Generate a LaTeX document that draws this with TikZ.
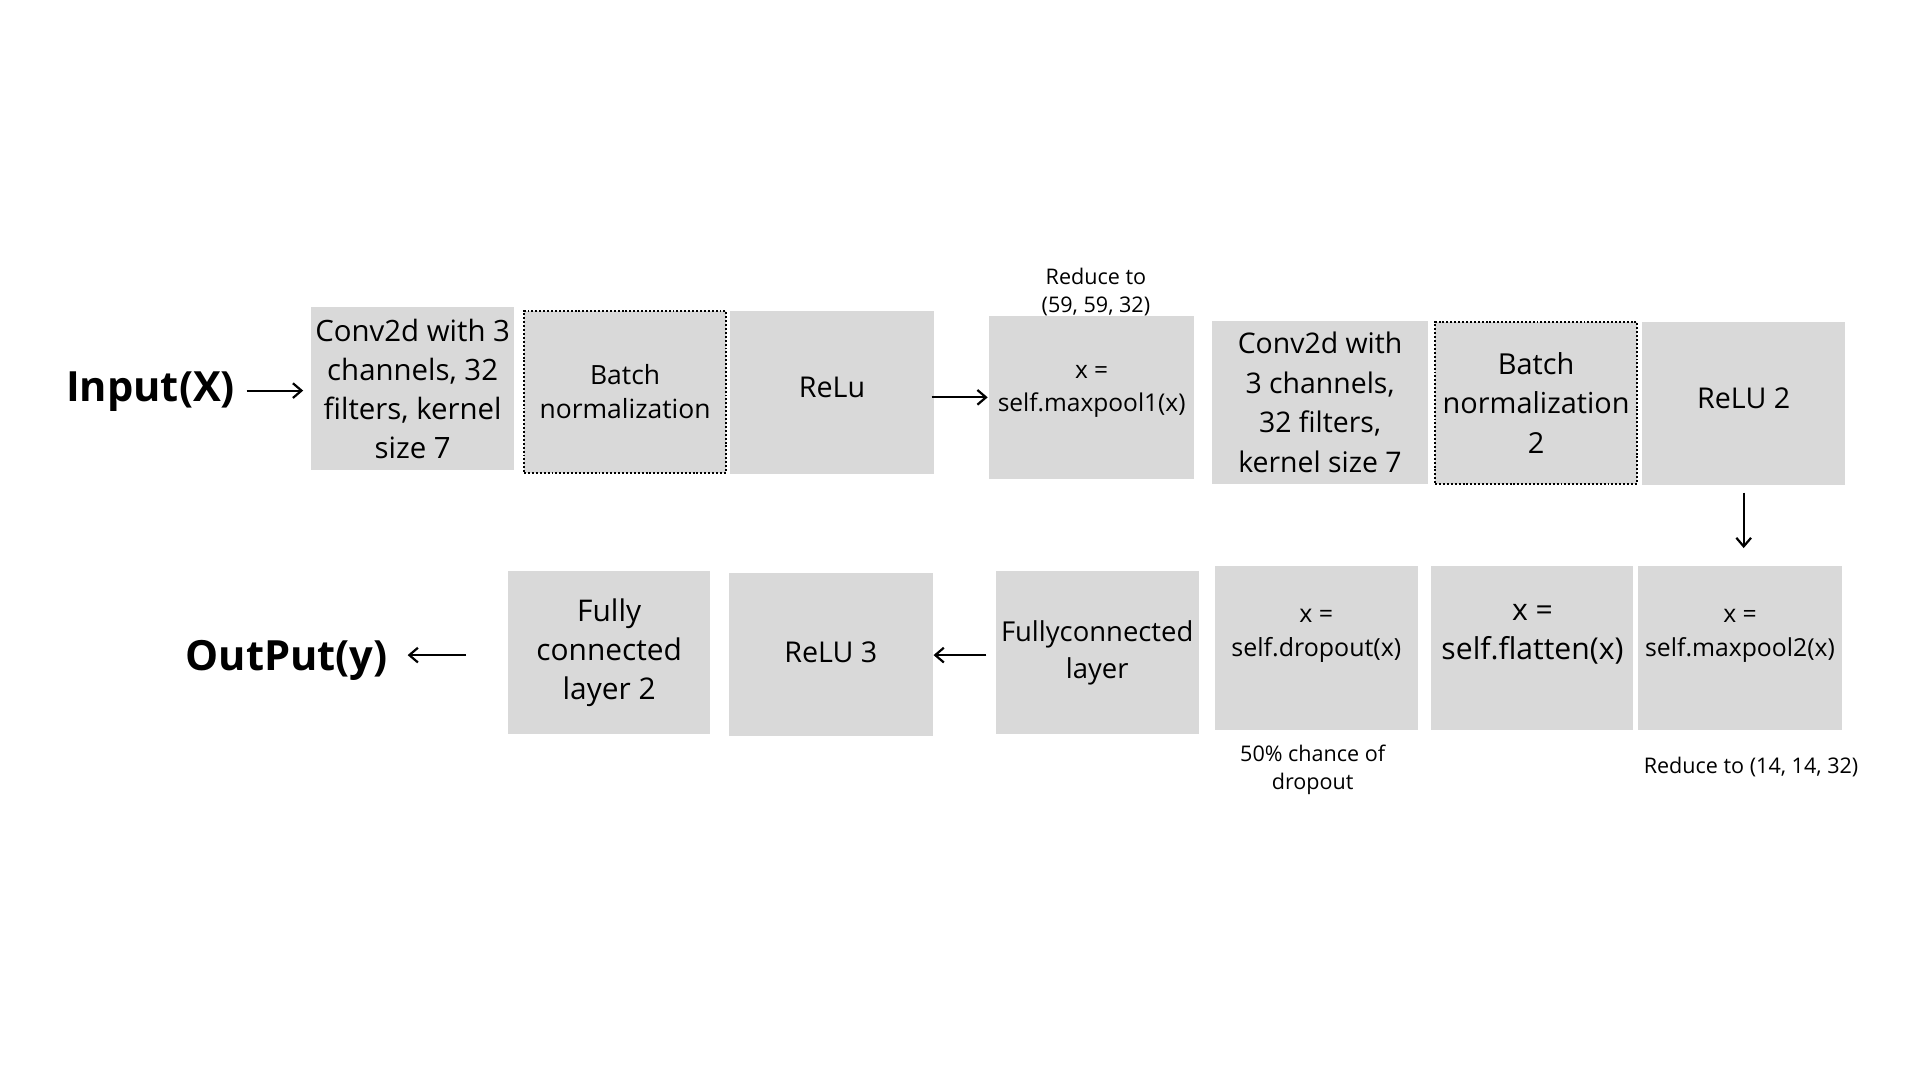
\documentclass[tikz,border=0pt]{standalone}
\usepackage{fontspec}
\setmainfont{Open Sans}
\usetikzlibrary{arrows.meta}
\definecolor{boxgray}{HTML}{D9D9D9}
\newcommand{\fsz}[2]{\fontsize{#1}{#2}\selectfont}
\begin{document}
\begin{tikzpicture}[x=0.5pt,y=-0.5pt,
  box/.style={fill=boxgray, inner sep=0pt, align=center, minimum width=83pt, minimum height=66.5pt},
  dotbox/.style={box, draw=black, line width=0.8pt, dash pattern=on 0.8pt off 0.8pt},
  inlab/.style={align=center, inner sep=0pt},
  arr/.style={line width=0.9pt, -{Straight Barb[length=3.5pt,width=6pt]}},
  note/.style={align=center, inner sep=0pt, font=\fsz{8.8}{11.5}},
  big/.style={inner sep=0pt, font=\bfseries\fsz{17}{20}}]
\useasboundingbox[fill=white] (0,0) rectangle (1568,882);

% row 1
\node[big] (inp) at (123,320) {Input(X)};
\node[box, font=\fsz{12}{16}] (conv1) at (337,317.5) {Conv2d with 3\\channels, 32\\filters, kernel\\size 7};
\node[dotbox, font=\fsz{10.8}{14}, minimum width=82.5pt, minimum height=66pt] (bn1) at (510.5,320) {Batch\\normalization};
\node[box, font=\fsz{11.7}{16},
  label={[inlab, yshift=2pt, font=\fsz{11.7}{16}]center:{ReLu}}] (relu1) at (679.5,320.5) {};
\node[box, minimum width=83.5pt,
  label={[inlab, yshift=2.25pt, font=\fsz{10}{13.5}]center:{x =\\self.maxpool1(x)}}] (mp1) at (891.5,324.5) {};
\node[note] (n1) at (895,238.5) {Reduce to\\(59, 59, 32)};
\node[box, minimum width=88pt, font=\fsz{11.6}{16.2}] (conv2) at (1078,328.5) {Conv2d with\\3 channels,\\32 filters,\\kernel size 7};
\node[dotbox, font=\fsz{11.8}{16.2}, minimum width=82.5pt, minimum height=66pt] (bn2) at (1254.5,329) {Batch\\normalization\\2};
\node[box,
  label={[inlab, yshift=2pt, font=\fsz{11.7}{16}]center:{ReLU 2}}] (relu2) at (1424,329.5) {};

% row 2
\node[box, minimum height=67pt,
  label={[inlab, yshift=5pt, font=\fsz{10.1}{14}]center:{x =\\self.maxpool2(x)}}] (mp2) at (1421,529) {};
\node[note] (n2) at (1430,626) {Reduce to (14, 14, 32)};
\node[box, minimum width=82.5pt, minimum height=67pt,
  label={[inlab, yshift=5.5pt, font=\fsz{12.3}{16}]center:{x =\\self.flatten(x)}}] (flat) at (1251.5,529) {};
\node[box, minimum height=67pt,
  label={[inlab, yshift=5pt, font=\fsz{10.2}{14}]center:{x =\\self.dropout(x)}}] (drop) at (1075,529) {};
\node[note] (n3) at (1072,629) {50\% chance of\\dropout};
\node[box, font=\fsz{11.2}{15}] (fc) at (896,533) {Fullyconnected\\layer};
\node[box, minimum width=83.5pt,
  label={[inlab, yshift=1pt, font=\fsz{11.7}{16}]center:{ReLU 3}}] (relu3) at (678.5,534.5) {};
\node[box, minimum width=82.5pt, font=\fsz{12.2}{16}] (fc2) at (497.5,533) {Fully\\connected\\layer 2};
\node[big] (out) at (234,539) {OutPut(y)};

% connectors
\draw[arr, shorten <=4.5pt, shorten >=3pt] ([yshift=0.5pt]inp.east) -- ([yshift=0.5pt]inp.east -| conv1.west);
\draw[arr, shorten <=-1pt, shorten >=0.5pt] (relu1.east |- mp1.west) -- (mp1.west);
\draw[arr, shorten <=3pt, shorten >=7pt] (relu2.south) -- (relu2.south |- mp2.north);
\draw[arr, shorten <=3.5pt] ([yshift=-1pt]fc.west) -- ([yshift=-1pt]fc.west -| relu3.east);
\draw[arr, shorten <=17pt, shorten >=8pt] ([yshift=2pt]fc2.west |- out.east) -- ([yshift=2pt]out.east);
\end{tikzpicture}
\end{document}
